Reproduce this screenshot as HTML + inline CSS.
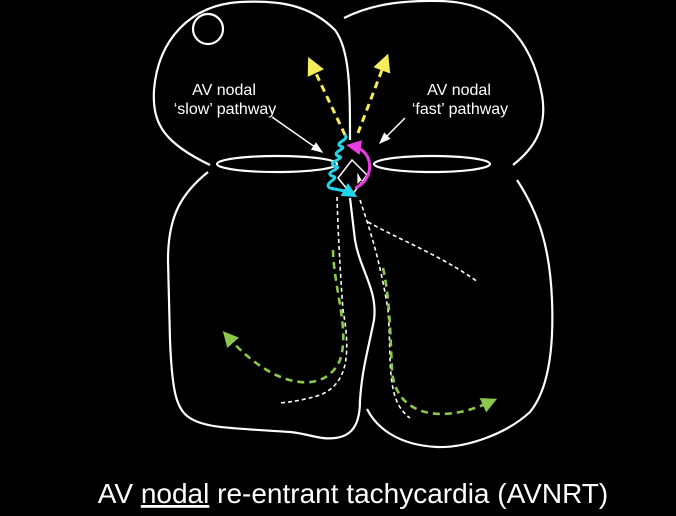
<!DOCTYPE html>
<html><head><style>
html,body{margin:0;padding:0;background:#000;width:676px;height:516px;overflow:hidden}
svg{display:block}
text{font-family:"Liberation Sans",sans-serif;fill:#fff}
</style></head><body>
<svg width="676" height="516" viewBox="0 0 676 516">
<defs>
<marker id="ay" markerWidth="6" markerHeight="6" refX="3" refY="3" orient="auto"><path d="M0,0L6,3L0,6z" fill="#f4ec5a"/></marker>
<marker id="ag" markerWidth="6" markerHeight="6" refX="3" refY="3" orient="auto"><path d="M0,0L6,3L0,6z" fill="#8cc84b"/></marker>
<marker id="aw" markerWidth="8" markerHeight="8" refX="7" refY="4" orient="auto"><path d="M0,1L8,4L0,7z" fill="#fff"/></marker>
<marker id="ac" markerWidth="5" markerHeight="5" refX="3" refY="2.5" orient="auto"><path d="M0,0L5,2.5L0,5z" fill="#22d4e8"/></marker>
<marker id="am" markerWidth="5" markerHeight="5" refX="3" refY="2.5" orient="auto"><path d="M0,0L5,2.5L0,5z" fill="#e83ce0"/></marker>
</defs>
<g fill="none" stroke="#fff" stroke-width="2.2">
<!-- left atrium -->
<path d="M350,140 C350,90 350,50 335,30 C310,5 280,0 240,2 C190,5 158,40 154,90 C152,125 165,143 210,165"/>
<!-- right atrium -->
<path d="M344,18 C370,5 400,0 440,1 C500,2 532,40 542,95 C548,130 532,150 513,165"/>
<!-- left ventricle -->
<path d="M208,172 C182,193 168,215 168,260 L170,340 C172,390 176,410 190,418 C205,428 230,428 290,432 C310,434 320,440 335,438 C355,436 360,420 360,400 C362,370 368,350 374,320 C378,290 360,270 355,240 L350,198"/>
<!-- right ventricle -->
<path d="M367,409 C375,425 395,445 437,447 C465,448 505,435 530,412 C548,390 554,350 552,300 C550,250 540,215 517,180"/>
<!-- small circle -->
<circle cx="208" cy="29" r="15"/>
<!-- valves -->
<ellipse cx="277" cy="164" rx="60" ry="8"/>
<ellipse cx="432" cy="164" rx="58" ry="8"/>
</g>
<!-- labels -->
<text x="224" y="95" font-size="16" text-anchor="middle">AV nodal</text>
<text x="225" y="114" font-size="16" text-anchor="middle">‘slow’ pathway</text>
<text x="459" y="95" font-size="16" text-anchor="middle">AV nodal</text>
<text x="460" y="114" font-size="16" text-anchor="middle">‘fast’ pathway</text>
<line x1="272" y1="117" x2="322" y2="152" stroke="#fff" stroke-width="1.5" marker-end="url(#aw)"/>
<line x1="405" y1="118" x2="380" y2="143" stroke="#fff" stroke-width="1.5" marker-end="url(#aw)"/>
<!-- yellow dashed -->
<g stroke="#f4ec5a" stroke-width="3" stroke-dasharray="7,5" fill="none">
<path d="M345,135 L312,65" marker-end="url(#ay)"/>
<path d="M358,133 L385,62" marker-end="url(#ay)"/>
</g>
<!-- white dashed -->
<g stroke="#fff" stroke-width="1.6" stroke-dasharray="4,3" fill="none">
<path d="M337,197 C338,230 340,270 343,310 C352,360 345,385 320,395 C305,400 290,402 280,403"/>
<path d="M360,200 C370,230 380,260 388,310 C392,360 385,400 410,418"/>
<path d="M368,222 C400,240 440,255 478,282"/>
</g>
<!-- green dashed -->
<g stroke="#8cc84b" stroke-width="2.6" stroke-dasharray="7,5" fill="none">
<path d="M333,250 C334,290 350,330 340,360 C325,395 275,390 228,337" marker-end="url(#ag)"/>
<path d="M383,268 C390,300 390,330 392,370 C395,415 440,425 490,402" marker-end="url(#ag)"/>
</g>
<!-- node -->
<path d="M352,160 L367,175 L352,195 L338,178 Z" fill="none" stroke="#fff" stroke-width="1.5"/>
<path d="M357,172 L357,185 L361,181 L365,186" fill="#fff" stroke="#000" stroke-width="0.8"/>
<!-- cyan squiggle -->
<path d="M345,135 C350,140 335,142 340,146 C350,148 330,152 338,156 C348,158 325,162 335,166 C345,168 323,172 332,176 C342,178 322,183 330,188 C338,190 345,190 352,194" fill="none" stroke="#22d4e8" stroke-width="3" marker-end="url(#ac)"/>
<!-- magenta arc -->
<path d="M355,188 C375,180 375,150 352,146" fill="none" stroke="#e83ce0" stroke-width="3" marker-end="url(#am)"/>
<!-- title -->
<text x="353" y="503" font-size="28" text-anchor="middle">AV <tspan text-decoration="underline">nodal</tspan> re-entrant tachycardia (AVNRT)</text>
</svg>
</body></html>
